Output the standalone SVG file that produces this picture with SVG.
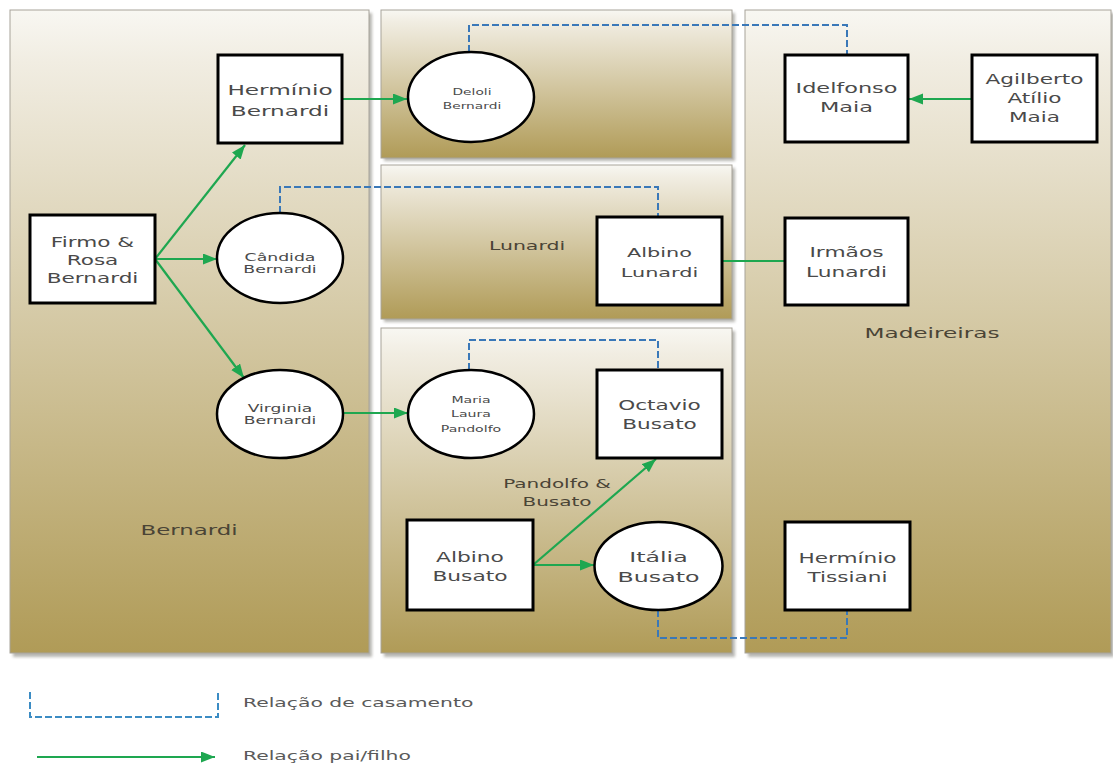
<svg xmlns="http://www.w3.org/2000/svg" width="1113" height="764" viewBox="0 0 1113 764">
  <style>
    .panel { stroke: #a7a39a; stroke-width: 1; fill: url(#panelFill); }
    .shadow { fill: #7d7a72; opacity: 0.55; filter: url(#soft); }
    .box { fill: #ffffff; stroke: #000000; stroke-width: 3; }
    .oval { fill: #ffffff; stroke: #000000; stroke-width: 2.5; }
    text { font-family: "DejaVu Sans", Verdana, sans-serif; text-anchor: middle; fill: #4a4a4a; }
    .area { fill: #4a4436; }
    .legend { fill: #5a5a5a; text-anchor: start; }
    .marriage { fill: none; stroke: #3a78b8; stroke-width: 2; stroke-dasharray: 7 3; }
    .marriage-key { fill: none; stroke: #3b8cc4; stroke-width: 2; stroke-dasharray: 7 3; }
    .parent { fill: none; stroke: #1ea750; stroke-width: 2.2; }
  </style>
  <defs>
    <linearGradient id="panelFill" x1="0" y1="0" x2="0" y2="1">
      <stop offset="0" stop-color="#f8f7f2"/>
      <stop offset="0.08" stop-color="#f1ede2"/>
      <stop offset="1" stop-color="#b09b57"/>
    </linearGradient>
    <filter id="soft" x="-5%" y="-5%" width="110%" height="110%">
      <feGaussianBlur stdDeviation="1.5"/>
    </filter>
    <marker id="arrow" markerUnits="userSpaceOnUse" markerWidth="16" markerHeight="12" refX="14" refY="5.5" orient="auto">
      <path d="M0,0 L14,5.5 L0,11 z" fill="#1ea750"/>
    </marker>
  </defs>

  <rect width="1113" height="764" fill="#ffffff"/>

  <!-- background areas -->
  <g id="areas">
    <rect class="shadow" x="13" y="13" width="359" height="644"/>
    <rect class="panel" x="10" y="10" width="359" height="643"/>
    <rect class="shadow" x="384" y="13" width="351" height="148"/>
    <rect class="panel" x="381" y="10" width="351" height="148"/>
    <rect class="shadow" x="384" y="168" width="351" height="154"/>
    <rect class="panel" x="381" y="165" width="351" height="154"/>
    <rect class="shadow" x="384" y="331" width="351" height="326"/>
    <rect class="panel" x="381" y="328" width="351" height="325"/>
    <rect class="shadow" x="748" y="13" width="366" height="644"/>
    <rect class="panel" x="745" y="10" width="366" height="643"/>
    <g transform="translate(189 0) scale(1.6 1)"><text class="area" x="0" y="535" font-size="14.3">Bernardi</text></g>
    <g transform="translate(527 0) scale(1.6 1)"><text class="area" x="0" y="250" font-size="12.8">Lunardi</text></g>
    <g transform="translate(557 0) scale(1.6 1)">
      <text class="area" x="0" y="488" font-size="12.5">Pandolfo &amp;</text>
      <text class="area" x="0" y="506" font-size="12.5">Busato</text>
    </g>
    <g transform="translate(932 0) scale(1.6 1)"><text class="area" x="0" y="338" font-size="14.5">Madeireiras</text></g>
  </g>

  <!-- connectors -->
  <g id="connectors">
    <path class="marriage" d="M469,52 V25 H847 V55"/>
    <path class="marriage" d="M280,213 V187 H658 V217"/>
    <path class="marriage" d="M469,370 V340 H658 V370"/>
    <path class="marriage" d="M658,610 V638 H847 V610"/>
    <line class="parent" x1="155" y1="259" x2="245" y2="145" marker-end="url(#arrow)"/>
    <line class="parent" x1="155" y1="259" x2="217" y2="259" marker-end="url(#arrow)"/>
    <line class="parent" x1="155" y1="259" x2="244" y2="378" marker-end="url(#arrow)"/>
    <line class="parent" x1="342" y1="99" x2="407" y2="99" marker-end="url(#arrow)"/>
    <line class="parent" x1="343" y1="413" x2="408" y2="413" marker-end="url(#arrow)"/>
    <line class="parent" x1="972" y1="99" x2="909" y2="99" marker-end="url(#arrow)"/>
    <line class="parent" x1="722" y1="261" x2="785" y2="261"/>
    <line class="parent" x1="533" y1="565" x2="656" y2="459" marker-end="url(#arrow)"/>
    <line class="parent" x1="533" y1="565" x2="594" y2="565" marker-end="url(#arrow)"/>
  </g>

  <!-- people and companies -->
  <g id="firmo-rosa-bernardi">
    <rect class="box" x="30" y="215" width="125" height="88"/>
    <g transform="translate(92.5 0) scale(1.6 1)">
      <text x="0" y="247" font-size="13.5">Firmo &amp;</text>
      <text x="0" y="265" font-size="13.5">Rosa</text>
      <text x="0" y="283" font-size="13.5">Bernardi</text>
    </g>
  </g>
  <g id="herminio-bernardi">
    <rect class="box" x="218" y="55" width="124" height="88"/>
    <g transform="translate(280 0) scale(1.6 1)">
      <text x="0" y="95" font-size="14.5">Hermínio</text>
      <text x="0" y="116" font-size="14.5">Bernardi</text>
    </g>
  </g>
  <g id="candida-bernardi">
    <ellipse class="oval" cx="280" cy="258" rx="63" ry="45"/>
    <g transform="translate(280 0) scale(1.6 1)">
      <text x="0" y="261" font-size="10.8">Cândida</text>
      <text x="0" y="273" font-size="10.8">Bernardi</text>
    </g>
  </g>
  <g id="virginia-bernardi">
    <ellipse class="oval" cx="280" cy="414" rx="63" ry="44"/>
    <g transform="translate(280 0) scale(1.6 1)">
      <text x="0" y="412" font-size="10.7">Virginia</text>
      <text x="0" y="424" font-size="10.7">Bernardi</text>
    </g>
  </g>
  <g id="deloli-bernardi">
    <ellipse class="oval" cx="471" cy="97" rx="63" ry="45"/>
    <g transform="translate(472 0) scale(1.6 1)">
      <text x="0" y="95" font-size="8.6">Deloli</text>
      <text x="0" y="109" font-size="8.6">Bernardi</text>
    </g>
  </g>
  <g id="albino-lunardi">
    <rect class="box" x="597" y="217" width="125" height="88"/>
    <g transform="translate(659.5 0) scale(1.6 1)">
      <text x="0" y="257" font-size="13">Albino</text>
      <text x="0" y="277" font-size="13">Lunardi</text>
    </g>
  </g>
  <g id="idelfonso-maia">
    <rect class="box" x="785" y="55" width="123" height="87"/>
    <g transform="translate(846.5 0) scale(1.6 1)">
      <text x="0" y="93" font-size="14">Idelfonso</text>
      <text x="0" y="112" font-size="14">Maia</text>
    </g>
  </g>
  <g id="agilberto-atilio-maia">
    <rect class="box" x="972" y="55" width="125" height="87"/>
    <g transform="translate(1034.5 0) scale(1.6 1)">
      <text x="0" y="84" font-size="13.5">Agilberto</text>
      <text x="0" y="103" font-size="13.5">Atílio</text>
      <text x="0" y="122" font-size="13.5">Maia</text>
    </g>
  </g>
  <g id="irmaos-lunardi">
    <rect class="box" x="785" y="218" width="123" height="87"/>
    <g transform="translate(846.5 0) scale(1.6 1)">
      <text x="0" y="257" font-size="13.6">Irmãos</text>
      <text x="0" y="277" font-size="13.6">Lunardi</text>
    </g>
  </g>
  <g id="maria-laura-pandolfo">
    <ellipse class="oval" cx="471" cy="414" rx="63" ry="44"/>
    <g transform="translate(471 0) scale(1.6 1)">
      <text x="0" y="403" font-size="8.8">Maria</text>
      <text x="0" y="417" font-size="8.8">Laura</text>
      <text x="0" y="432" font-size="8.8">Pandolfo</text>
    </g>
  </g>
  <g id="octavio-busato">
    <rect class="box" x="597" y="370" width="125" height="88"/>
    <g transform="translate(659.5 0) scale(1.6 1)">
      <text x="0" y="410" font-size="13.5">Octavio</text>
      <text x="0" y="429" font-size="13.5">Busato</text>
    </g>
  </g>
  <g id="albino-busato">
    <rect class="box" x="407" y="520" width="126" height="90"/>
    <g transform="translate(470 0) scale(1.6 1)">
      <text x="0" y="562" font-size="13.6">Albino</text>
      <text x="0" y="581" font-size="13.6">Busato</text>
    </g>
  </g>
  <g id="italia-busato">
    <ellipse class="oval" cx="658.5" cy="566" rx="64" ry="44"/>
    <g transform="translate(658.5 0) scale(1.6 1)">
      <text x="0" y="562" font-size="14.8">Itália</text>
      <text x="0" y="582" font-size="14.8">Busato</text>
    </g>
  </g>
  <g id="herminio-tissiani">
    <rect class="box" x="785" y="522" width="125" height="88"/>
    <g transform="translate(847.5 0) scale(1.6 1)">
      <text x="0" y="563" font-size="13.5">Hermínio</text>
      <text x="0" y="582" font-size="13.5">Tissiani</text>
    </g>
  </g>

  <!-- key -->
  <g id="legend">
    <path class="marriage-key" d="M30,692 V717 H218 V692"/>
    <g transform="translate(243 0) scale(1.6 1)"><text class="legend" x="0" y="707" font-size="12.7">Relação de casamento</text></g>
    <line class="parent" x1="37" y1="757" x2="215" y2="757" marker-end="url(#arrow)"/>
    <g transform="translate(243 0) scale(1.6 1)"><text class="legend" x="0" y="760" font-size="12.7">Relação pai/filho</text></g>
  </g>
</svg>
